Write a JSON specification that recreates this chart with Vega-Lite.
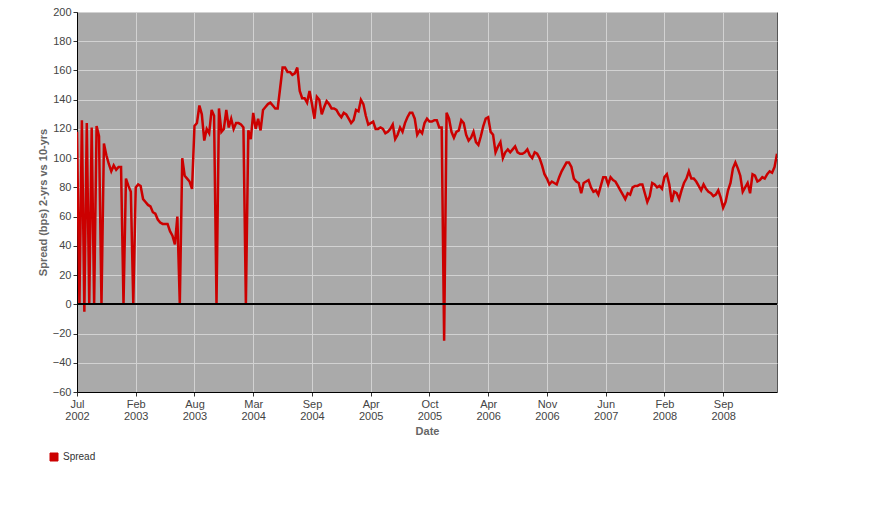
{
  "$schema": "https://vega.github.io/schema/vega-lite/v6.json",
  "width": 700,
  "height": 380,
  "autosize": {"type": "none"},
  "padding": {"left": 77, "top": 12, "right": 113, "bottom": 128},
  "background": "white",
  "config": {
    "view": {"fill": "#AAAAAA", "stroke": "#555555", "strokeWidth": 1},
    "axis": {
      "domainColor": "#000000",
      "tickColor": "#333333",
      "tickSize": 4,
      "labelColor": "#444444",
      "labelFont": "Liberation Sans",
      "labelFontSize": 11,
      "gridColor": "#D2D2D2",
      "gridWidth": 1,
      "titleColor": "#666666",
      "titleFont": "Liberation Sans",
      "titleFontSize": 11,
      "titleFontWeight": "bold"
    }
  },
  "data": {"values": [
    {"date":"2002-07-01","spread":118},{"date":"2002-07-08","spread":0},{"date":"2002-07-16","spread":126},{"date":"2002-07-23","spread":-5},
    {"date":"2002-08-01","spread":124},{"date":"2002-08-08","spread":0},{"date":"2002-08-16","spread":121},{"date":"2002-08-23","spread":0},
    {"date":"2002-09-01","spread":122},{"date":"2002-09-08","spread":115},{"date":"2002-09-16","spread":0},{"date":"2002-09-23","spread":110},
    {"date":"2002-10-01","spread":102},{"date":"2002-10-11","spread":96},{"date":"2002-10-21","spread":91},
    {"date":"2002-11-01","spread":95},{"date":"2002-11-11","spread":92},{"date":"2002-11-21","spread":94},
    {"date":"2002-12-01","spread":94},{"date":"2002-12-11","spread":0},{"date":"2002-12-21","spread":86},
    {"date":"2003-01-01","spread":81},{"date":"2003-01-11","spread":77},{"date":"2003-01-21","spread":0},
    {"date":"2003-02-01","spread":80},{"date":"2003-02-08","spread":82},{"date":"2003-02-16","spread":81},{"date":"2003-02-23","spread":72},
    {"date":"2003-03-01","spread":70},{"date":"2003-03-08","spread":68},{"date":"2003-03-16","spread":67},{"date":"2003-03-23","spread":63},
    {"date":"2003-04-01","spread":62},{"date":"2003-04-08","spread":58},{"date":"2003-04-16","spread":56},{"date":"2003-04-23","spread":55},
    {"date":"2003-05-01","spread":55},{"date":"2003-05-08","spread":55},{"date":"2003-05-16","spread":50},{"date":"2003-05-23","spread":47},
    {"date":"2003-06-01","spread":41},{"date":"2003-06-08","spread":60},{"date":"2003-06-16","spread":0},{"date":"2003-06-23","spread":100},
    {"date":"2003-07-01","spread":88},{"date":"2003-07-08","spread":86},{"date":"2003-07-16","spread":84},{"date":"2003-07-23","spread":79},
    {"date":"2003-08-01","spread":122},{"date":"2003-08-08","spread":124},{"date":"2003-08-16","spread":136},{"date":"2003-08-23","spread":130},
    {"date":"2003-09-01","spread":112},{"date":"2003-09-08","spread":120},{"date":"2003-09-16","spread":117},{"date":"2003-09-23","spread":133},
    {"date":"2003-10-01","spread":129},{"date":"2003-10-08","spread":0},{"date":"2003-10-16","spread":134},{"date":"2003-10-23","spread":118},
    {"date":"2003-11-01","spread":120},{"date":"2003-11-11","spread":133},{"date":"2003-11-21","spread":121},
    {"date":"2003-12-01","spread":127},{"date":"2003-12-11","spread":120},{"date":"2003-12-21","spread":124},
    {"date":"2004-01-01","spread":124},{"date":"2004-01-11","spread":123},{"date":"2004-01-21","spread":121},
    {"date":"2004-02-01","spread":0},{"date":"2004-02-11","spread":119},{"date":"2004-02-21","spread":113},
    {"date":"2004-03-01","spread":131},{"date":"2004-03-08","spread":120},{"date":"2004-03-16","spread":127},{"date":"2004-03-23","spread":119},
    {"date":"2004-04-01","spread":133},{"date":"2004-04-08","spread":135},{"date":"2004-04-16","spread":137},{"date":"2004-04-23","spread":138},
    {"date":"2004-05-01","spread":136},{"date":"2004-05-08","spread":134},{"date":"2004-05-16","spread":134},{"date":"2004-05-23","spread":148},
    {"date":"2004-06-01","spread":162},{"date":"2004-06-08","spread":162},{"date":"2004-06-16","spread":159},{"date":"2004-06-23","spread":159},
    {"date":"2004-07-01","spread":157},{"date":"2004-07-08","spread":158},{"date":"2004-07-16","spread":162},{"date":"2004-07-23","spread":146},
    {"date":"2004-08-01","spread":141},{"date":"2004-08-08","spread":141},{"date":"2004-08-16","spread":138},{"date":"2004-08-23","spread":146},
    {"date":"2004-09-01","spread":137},{"date":"2004-09-08","spread":127},{"date":"2004-09-16","spread":142},{"date":"2004-09-23","spread":140},
    {"date":"2004-10-01","spread":130},{"date":"2004-10-08","spread":135},{"date":"2004-10-16","spread":139},{"date":"2004-10-23","spread":137},
    {"date":"2004-11-01","spread":134},{"date":"2004-11-08","spread":134},{"date":"2004-11-16","spread":133},{"date":"2004-11-23","spread":130},
    {"date":"2004-12-01","spread":128},{"date":"2004-12-11","spread":131},{"date":"2004-12-21","spread":130},
    {"date":"2005-01-01","spread":127},{"date":"2005-01-11","spread":124},{"date":"2005-01-21","spread":126},
    {"date":"2005-02-01","spread":133},{"date":"2005-02-11","spread":132},{"date":"2005-02-21","spread":140},
    {"date":"2005-03-01","spread":137},{"date":"2005-03-11","spread":129},{"date":"2005-03-21","spread":123},
    {"date":"2005-04-01","spread":124},{"date":"2005-04-08","spread":125},{"date":"2005-04-16","spread":120},{"date":"2005-04-23","spread":120},
    {"date":"2005-05-01","spread":121},{"date":"2005-05-08","spread":120},{"date":"2005-05-16","spread":117},{"date":"2005-05-23","spread":118},
    {"date":"2005-06-01","spread":120},{"date":"2005-06-08","spread":123},{"date":"2005-06-16","spread":113},{"date":"2005-06-23","spread":116},
    {"date":"2005-07-01","spread":121},{"date":"2005-07-08","spread":118},{"date":"2005-07-16","spread":124},{"date":"2005-07-23","spread":128},
    {"date":"2005-08-01","spread":131},{"date":"2005-08-08","spread":131},{"date":"2005-08-16","spread":127},{"date":"2005-08-23","spread":116},
    {"date":"2005-09-01","spread":119},{"date":"2005-09-08","spread":117},{"date":"2005-09-16","spread":124},{"date":"2005-09-23","spread":127},
    {"date":"2005-10-01","spread":125},{"date":"2005-10-08","spread":125},{"date":"2005-10-16","spread":126},{"date":"2005-10-23","spread":126},
    {"date":"2005-11-01","spread":121},{"date":"2005-11-08","spread":121},{"date":"2005-11-16","spread":-25},{"date":"2005-11-23","spread":131},
    {"date":"2005-12-01","spread":127},{"date":"2005-12-08","spread":118},{"date":"2005-12-16","spread":114},{"date":"2005-12-23","spread":118},
    {"date":"2006-01-01","spread":119},{"date":"2006-01-08","spread":126},{"date":"2006-01-16","spread":124},{"date":"2006-01-23","spread":116},
    {"date":"2006-02-01","spread":112},{"date":"2006-02-08","spread":114},{"date":"2006-02-16","spread":118},{"date":"2006-02-23","spread":111},
    {"date":"2006-03-01","spread":109},{"date":"2006-03-08","spread":115},{"date":"2006-03-16","spread":122},{"date":"2006-03-23","spread":127},
    {"date":"2006-04-01","spread":128},{"date":"2006-04-08","spread":118},{"date":"2006-04-16","spread":116},{"date":"2006-04-23","spread":104},
    {"date":"2006-05-01","spread":108},{"date":"2006-05-08","spread":111},{"date":"2006-05-16","spread":100},{"date":"2006-05-23","spread":104},
    {"date":"2006-06-01","spread":106},{"date":"2006-06-08","spread":104},{"date":"2006-06-16","spread":106},{"date":"2006-06-23","spread":108},
    {"date":"2006-07-01","spread":104},{"date":"2006-07-11","spread":103},{"date":"2006-07-21","spread":103},
    {"date":"2006-08-01","spread":104},{"date":"2006-08-11","spread":106},{"date":"2006-08-21","spread":102},
    {"date":"2006-09-01","spread":100},{"date":"2006-09-11","spread":104},{"date":"2006-09-21","spread":103},
    {"date":"2006-10-01","spread":100},{"date":"2006-10-11","spread":95},{"date":"2006-10-21","spread":89},
    {"date":"2006-11-01","spread":86},{"date":"2006-11-08","spread":82},{"date":"2006-11-16","spread":84},{"date":"2006-11-23","spread":83},
    {"date":"2006-12-01","spread":82},{"date":"2006-12-08","spread":87},{"date":"2006-12-16","spread":91},{"date":"2006-12-23","spread":94},
    {"date":"2007-01-01","spread":97},{"date":"2007-01-08","spread":97},{"date":"2007-01-16","spread":94},{"date":"2007-01-23","spread":86},
    {"date":"2007-02-01","spread":84},{"date":"2007-02-11","spread":83},{"date":"2007-02-21","spread":76},
    {"date":"2007-03-01","spread":83},{"date":"2007-03-11","spread":84},{"date":"2007-03-21","spread":85},
    {"date":"2007-04-01","spread":80},{"date":"2007-04-11","spread":77},{"date":"2007-04-21","spread":78},
    {"date":"2007-05-01","spread":75},{"date":"2007-05-11","spread":81},{"date":"2007-05-21","spread":87},
    {"date":"2007-06-01","spread":87},{"date":"2007-06-11","spread":82},{"date":"2007-06-21","spread":87},
    {"date":"2007-07-01","spread":85},{"date":"2007-07-11","spread":84},{"date":"2007-07-21","spread":81},
    {"date":"2007-08-01","spread":78},{"date":"2007-08-11","spread":75},{"date":"2007-08-21","spread":72},
    {"date":"2007-09-01","spread":76},{"date":"2007-09-11","spread":75},{"date":"2007-09-21","spread":80},
    {"date":"2007-10-01","spread":81},{"date":"2007-10-11","spread":81},{"date":"2007-10-21","spread":82},
    {"date":"2007-11-01","spread":82},{"date":"2007-11-11","spread":76},{"date":"2007-11-21","spread":70},
    {"date":"2007-12-01","spread":74},{"date":"2007-12-11","spread":83},{"date":"2007-12-21","spread":82},
    {"date":"2008-01-01","spread":80},{"date":"2008-01-11","spread":81},{"date":"2008-01-21","spread":79},
    {"date":"2008-02-01","spread":87},{"date":"2008-02-08","spread":89},{"date":"2008-02-16","spread":82},{"date":"2008-02-23","spread":70},
    {"date":"2008-03-01","spread":77},{"date":"2008-03-08","spread":76},{"date":"2008-03-16","spread":72},{"date":"2008-03-23","spread":78},
    {"date":"2008-04-01","spread":83},{"date":"2008-04-08","spread":86},{"date":"2008-04-16","spread":91},{"date":"2008-04-23","spread":86},
    {"date":"2008-05-01","spread":86},{"date":"2008-05-11","spread":84},{"date":"2008-05-21","spread":81},
    {"date":"2008-06-01","spread":78},{"date":"2008-06-11","spread":82},{"date":"2008-06-21","spread":79},
    {"date":"2008-07-01","spread":77},{"date":"2008-07-11","spread":76},{"date":"2008-07-21","spread":74},
    {"date":"2008-08-01","spread":75},{"date":"2008-08-11","spread":78},{"date":"2008-08-21","spread":73},
    {"date":"2008-09-01","spread":66},{"date":"2008-09-08","spread":70},{"date":"2008-09-16","spread":78},{"date":"2008-09-23","spread":83},
    {"date":"2008-10-01","spread":93},{"date":"2008-10-08","spread":97},{"date":"2008-10-16","spread":93},{"date":"2008-10-23","spread":88},
    {"date":"2008-11-01","spread":77},{"date":"2008-11-08","spread":80},{"date":"2008-11-16","spread":83},{"date":"2008-11-23","spread":76},
    {"date":"2008-12-01","spread":89},{"date":"2008-12-08","spread":88},{"date":"2008-12-16","spread":84},{"date":"2008-12-23","spread":85},
    {"date":"2009-01-01","spread":87},{"date":"2009-01-08","spread":86},{"date":"2009-01-16","spread":89},{"date":"2009-01-23","spread":91},
    {"date":"2009-02-01","spread":90},{"date":"2009-02-11","spread":94},{"date":"2009-02-21","spread":103}
  ]},
  "layer": [
    {
      "mark": {"type": "line", "strokeWidth": 2.5, "clip": true},
      "encoding": {
        "x": {
          "field": "date",
          "type": "ordinal",
          "scale": {"type": "point", "padding": 0},
          "axis": {
            "title": "Date",
            "values": ["2002-07-01","2003-02-01","2003-08-01","2004-03-01","2004-09-01","2005-04-01","2005-10-01","2006-04-01","2006-11-01","2007-06-01","2008-02-01","2008-09-01"],
            "labelExpr": "[utcFormat(toDate(datum.value), '%b'), utcFormat(toDate(datum.value), '%Y')]",
            "labelAngle": 0,
            "labelLineHeight": 12,
            "labelPadding": 2,
            "labelOverlap": false,
            "labelBound": false,
            "tickCount": 30,
            "grid": true,
            "titlePadding": 4
          }
        },
        "y": {
          "field": "spread",
          "type": "quantitative",
          "scale": {"domain": [-60, 200], "nice": false, "zero": false},
          "axis": {
            "title": "Spread (bps) 2-yrs vs 10-yrs",
            "values": [-60, -40, -20, 0, 20, 40, 60, 80, 100, 120, 140, 160, 180, 200],
            "tickCount": 30,
            "labelPadding": 2,
            "labelOverlap": false,
            "labelBound": false,
            "labelFlush": false,
            "titlePadding": 4,
            "grid": true
          }
        },
        "color": {
          "datum": "Spread",
          "scale": {"range": ["#CC0000"]},
          "legend": {
            "title": null,
            "orient": "none",
            "legendX": -28,
            "legendY": 440,
            "symbolType": "square",
            "symbolSize": 64,
            "labelFont": "Liberation Sans",
            "labelFontSize": 10,
            "labelColor": "#333333",
            "labelOffset": 4,
            "encode": {
              "symbols": {"update": {"fill": {"value": "#CC0000"}, "stroke": {"value": "#660000"}, "strokeWidth": {"value": 1}}}
            }
          }
        }
      }
    },
    {
      "mark": {"type": "rule", "color": "#000000", "strokeWidth": 1},
      "encoding": {"y": {"datum": 0, "type": "quantitative"}}
    }
  ]
}
